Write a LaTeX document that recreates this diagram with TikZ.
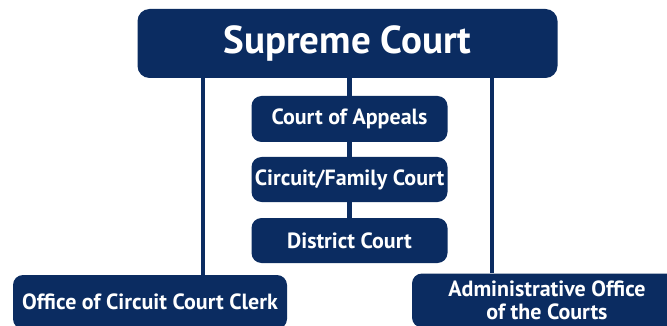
\documentclass[tikz,border=0pt]{standalone}
\usepackage{fontspec}
\setmainfont{PT Sans}
\usepackage{tikz}
\usetikzlibrary{calc,positioning}
\definecolor{courtnavy}{HTML}{0B2C61}

\begin{document}
\begin{tikzpicture}[x=1pt, y=-1pt,
    courtbox/.style={draw=none, fill=courtnavy, rounded corners=10pt, text=white,
      font=\fontsize{22}{23.5}\selectfont\bfseries, inner sep=0pt, align=center},
    link/.style={courtnavy, line width=4.5pt}]
  \useasboundingbox (0,0) rectangle (667,326);
  \clip (0,0) rectangle (667,326);
  \node[courtbox, rounded corners=12pt, minimum width=420pt, minimum height=69pt,
    font=\fontsize{39}{42}\selectfont\bfseries] (sup) at (347.5,43.5) {Supreme Court};
  \node[courtbox, minimum width=196pt, minimum height=46pt] (appeals) at (349.5,119) {Court of Appeals};
  \node[courtbox, minimum width=196pt, minimum height=45pt] (circuit) at (349.5,179.5) {Circuit/Family Court};
  \node[courtbox, minimum width=196pt, minimum height=45pt] (district) at (349.5,240.5) {District Court};
  \node[courtbox, minimum width=274pt, minimum height=54pt] (clerk) at (150,302) {Office of Circuit Court Clerk};
  \node[courtbox, minimum width=270pt, minimum height=54pt] (aoc) at (547,300.5) {Administrative Office\\of the Courts};
  \coordinate (lx) at (203,0);
  \coordinate (rx) at (492,0);
  \draw[link] (appeals.north |- sup.south) -- (appeals.north);
  \draw[link] (appeals) -- (circuit);
  \draw[link] (circuit) -- (district);
  \draw[link] (lx |- sup.south) -- (lx |- clerk.north);
  \draw[link] (rx |- sup.south) -- (rx |- aoc.north);
\end{tikzpicture}
\end{document}
